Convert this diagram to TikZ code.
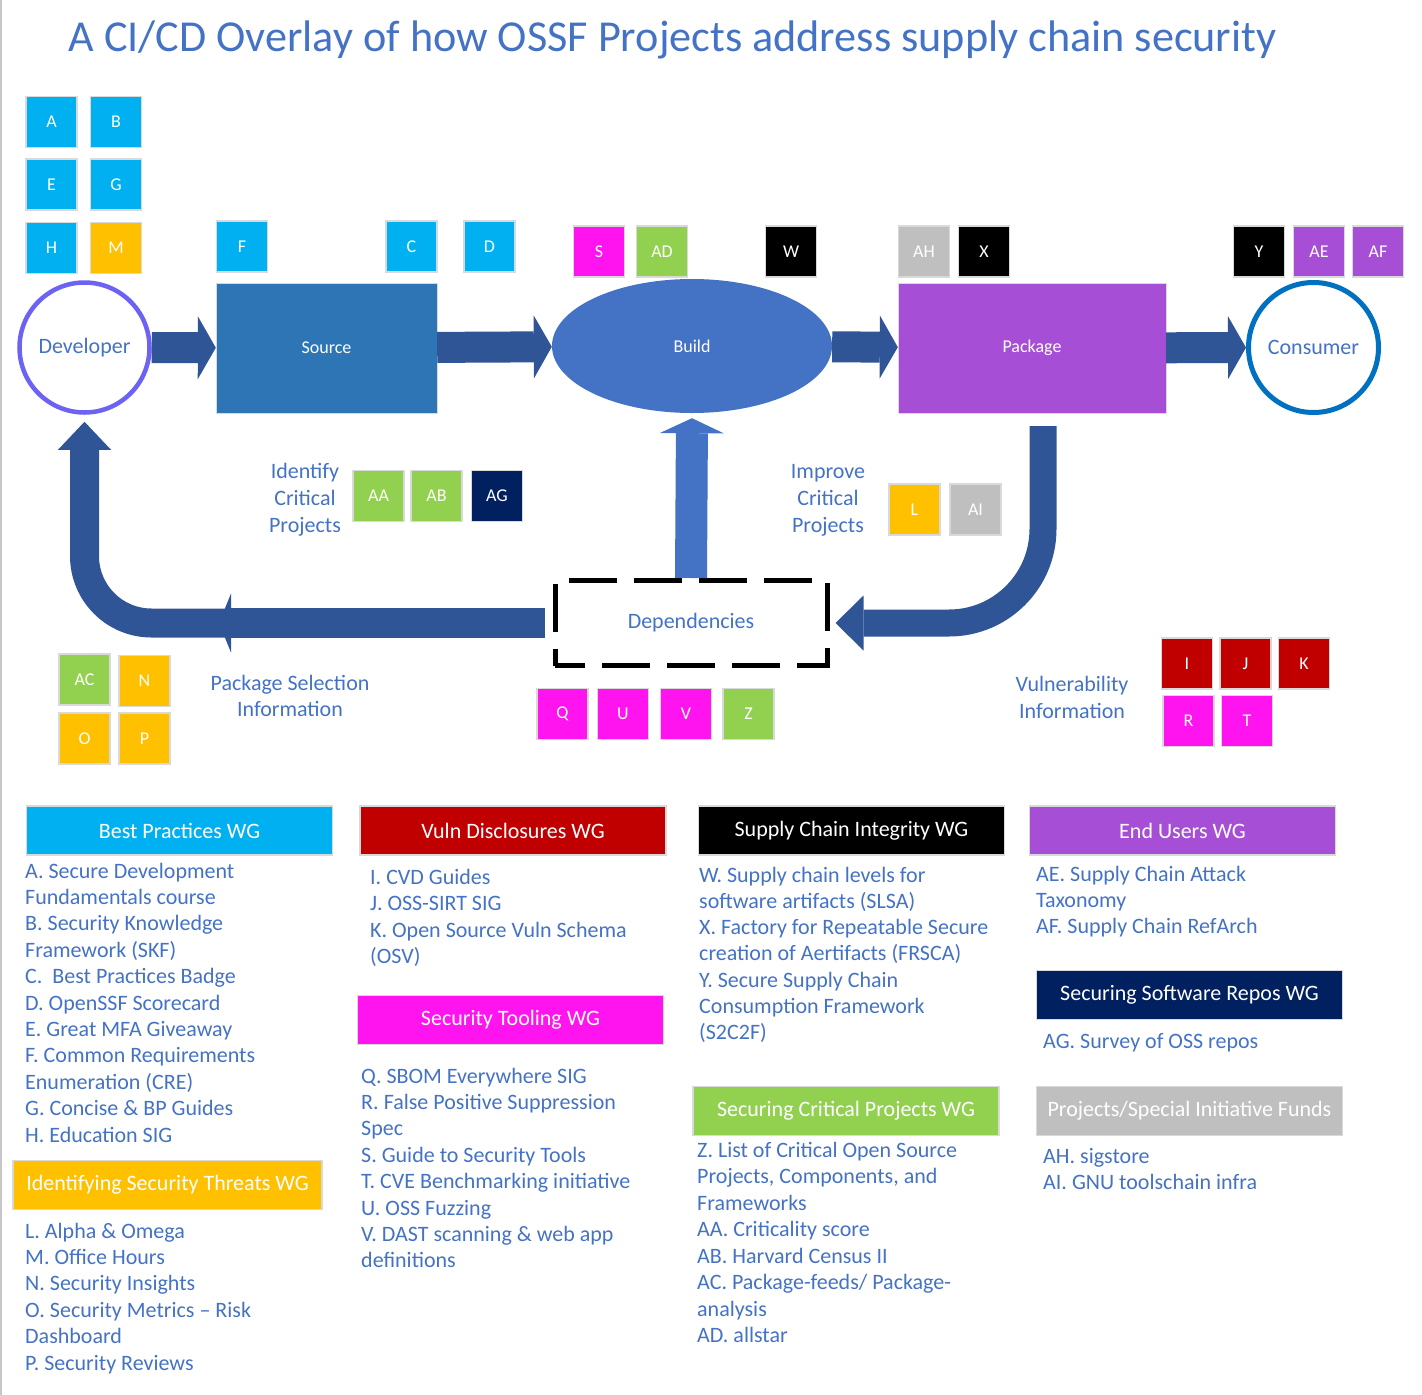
\documentclass[tikz,border=0pt]{standalone}
\usepackage{fontspec}
\setmainfont{Carlito}
\usetikzlibrary{arrows.meta}
\usetikzlibrary{shapes.geometric}
\definecolor{ossfblue}{HTML}{4472C4}
\definecolor{arrowblue}{HTML}{2F5597}
\definecolor{srcblue}{HTML}{2E75B6}
\definecolor{bpcyan}{HTML}{00B0F0}
\definecolor{istorange}{HTML}{FFC000}
\definecolor{stmagenta}{HTML}{FF14F0}
\definecolor{scpgreen}{HTML}{92D050}
\definecolor{vdred}{HTML}{C00000}
\definecolor{ssrnavy}{HTML}{002060}
\definecolor{eupurple}{HTML}{A64FD6}
\definecolor{fundgray}{HTML}{BFBFBF}
\definecolor{devpurple}{HTML}{6C63F5}
\definecolor{conblue}{HTML}{0070C0}
\newcommand\fsz[2]{\fontsize{#1}{#2}\selectfont}

\begin{document}
\begin{tikzpicture}[x=1pt,y=-1pt,
  tag/.style={draw=gray!30, line width=1.2pt, minimum size=51pt, inner sep=0pt, text=white, font=\fsz{18}{20}},
  wg/.style={draw=gray!30, line width=1.5pt, minimum width=306pt, minimum height=49pt, inner sep=0pt, text=white, font=\fsz{22}{26}},
  item/.style={anchor=base west, inner sep=0pt, text=ossfblue, font=\fsz{22}{26}},
  note/.style={align=center, inner sep=0pt, text=ossfblue, font=\fsz{22}{27}},
  stage/.style={minimum width=221pt, minimum height=130pt, inner sep=0pt, text=white, font=\fsz{18}{22}},
  actor/.style={circle, minimum size=130pt, inner sep=0pt, fill=white, text=ossfblue, font=\fsz{22}{26}},
  flow/.style={arrowblue, line width=31pt, -{Triangle[length=18pt,width=63pt,line width=0pt]}}]
\useasboundingbox (0,0) rectangle (1422,1395);
\draw[gray!45, line width=1.5pt] (1,0) -- (1,1395);
\node[anchor=base, inner sep=0pt, text=ossfblue, font=\fsz{44.2}{50}] (title) at (672.5,51) {A CI/CD Overlay of how OSSF Projects address supply chain security};

\node[actor, draw=devpurple, line width=4.5pt] (dev) at (84.5,347.5) {Developer};
\node[stage, fill=srcblue, draw=gray!30] (src) at (326.5,348) {Source};
\node[stage, ellipse, fill=ossfblue, minimum width=280pt, minimum height=134pt] (build) at (692,346) {Build};
\node[stage, fill=eupurple, draw=gray!30, minimum width=268pt] (pkg) at (1032,348) {Package};
\node[actor, draw=conblue, line width=5pt] (con) at (1313.5,347.5) {Consumer};
\node[draw, line width=5pt, dash pattern=on 48pt off 17pt, dash phase=18pt, minimum width=272pt, minimum height=85pt, inner sep=0pt, text=ossfblue, font=\fsz{22}{26}] (dep) at (691,623) {Dependencies};
\coordinate (selhead) at (219,623);

\draw[flow] (dev) -- (src);
\draw[flow] (src) -- (build);
\draw[flow] (build) -- (pkg);
\draw[flow] (pkg) -- (con);
\draw[flow, ossfblue, line width=32pt, -{Triangle[length=15pt,width=64pt,line width=0pt]}] (dep.north) -- ([yshift=-5pt]build.south);
\draw[flow, line width=29pt, rounded corners=67pt, -{Triangle[length=28pt,width=53pt,line width=0pt]}] ([xshift=6pt]selhead) -| ([yshift=-7pt]dev.south);
\draw[flow, line width=30pt, -{Triangle[length=12pt,width=59pt,line width=0pt]}] ([xshift=-8pt]dep.west) -- (selhead);
\draw[flow, line width=27pt, rounded corners=94pt, -{Triangle[length=28pt,width=55pt,line width=0pt]}] ([xshift=11pt,yshift=-13pt]pkg.south) |- ([xshift=6pt]dep.east);

\foreach \t/\x/\y/\c in {A/51.5/122/bpcyan, B/116/122/bpcyan, E/51.5/184.5/bpcyan, G/116/184.5/bpcyan,
  H/51.5/248/bpcyan, M/116/248/istorange, F/242/246.5/bpcyan, C/411.5/246.5/bpcyan, D/489.5/246.5/bpcyan,
  S/599/251.5/stmagenta, AD/662/251.5/scpgreen, W/791/251.5/black, AH/924/251.5/fundgray, X/984/251.5/black,
  Y/1259/251.5/black, AE/1319/251.5/eupurple, AF/1378/251.5/eupurple,
  AA/378.5/496/scpgreen, AB/436.5/496/scpgreen, AG/497/496/ssrnavy, L/914.5/509.5/istorange, AI/975.5/509.5/fundgray,
  AC/84.5/679.5/scpgreen, N/144.5/681/istorange, O/84.5/738.5/istorange, P/144.5/738.5/istorange,
  Q/562.5/714/stmagenta, U/623/714/stmagenta, V/686/714/stmagenta, Z/748.5/714/scpgreen,
  I/1187/663.5/vdred, J/1245.5/663.5/vdred, K/1304/663.5/vdred, R/1188.5/721/stmagenta, T/1247/721/stmagenta}
  \node[tag, fill=\c] (tag\t) at (\x,\y) {\t};

\node[note] (idnote) at (305,500) {Identify\\Critical\\Projects};
\node[note] (imnote) at (828,500) {Improve\\Critical\\Projects};
\node[note, font=\fsz{22}{25.5}] (psnote) at (290,696) {Package Selection\\Information};
\node[note] (vinote) at (1072,697) {Vulnerability\\Information};

\node[wg, fill=bpcyan] (bpwg) at (179.5,830.5) {Best Practices WG};
\node[wg, fill=vdred] (vdwg) at (513,830.5) {Vuln Disclosures WG};
\node[wg, fill=black] (sciwg) at (851.5,830.5) {Supply Chain Integrity WG};
\node[wg, fill=eupurple] (euwg) at (1182.5,830.5) {End Users WG};
\node[wg, fill=stmagenta] (stwg) at (510.5,1020) {Security Tooling WG};
\node[wg, fill=ssrnavy] (ssrwg) at (1189.5,995) {Securing Software Repos WG};
\node[wg, fill=istorange, minimum width=309pt] (istwg) at (167.5,1185) {Identifying Security Threats WG};
\node[wg, fill=scpgreen] (scpwg) at (846,1111) {Securing Critical Projects WG};
\node[wg, fill=fundgray] (fundwg) at (1189.5,1111) {Projects/Special Initiative Funds};

\foreach \t [count=\i from 0] in {A. Secure Development, Fundamentals course, B. Security Knowledge, Framework (SKF),
  C.\ \ Best Practices Badge, D. OpenSSF Scorecard, E. Great MFA Giveaway, F. Common Requirements,
  Enumeration (CRE), G. Concise \& BP Guides, H. Education SIG}
  \node[item] (bp\i) at (25,878+26.4*\i) {\t};
\foreach \t [count=\i from 0] in {L. Alpha \& Omega, M. Office Hours, N. Security Insights,
  O. Security Metrics – Risk, Dashboard, P. Security Reviews}
  \node[item] (ist\i) at (25,1238+26.4*\i) {\t};
\foreach \t [count=\i from 0] in {I. CVD Guides, J. OSS-SIRT SIG, K. Open Source Vuln Schema, (OSV)}
  \node[item] (vd\i) at (370,884+26.6*\i) {\t};
\foreach \t [count=\i from 0] in {Q. SBOM Everywhere SIG, R. False Positive Suppression, Spec,
  S. Guide to Security Tools, T. CVE Benchmarking initiative, U. OSS Fuzzing, V. DAST scanning \& web app, definitions}
  \node[item] (st\i) at (361,1083+26.4*\i) {\t};
\foreach \t [count=\i from 0] in {W. Supply chain levels for, software artifacts (SLSA), X. Factory for Repeatable Secure,
  creation of Aertifacts (FRSCA), Y. Secure Supply Chain, Consumption Framework, (S2C2F)}
  \node[item] (sci\i) at (699,882+26.3*\i) {\t};
\foreach \t [count=\i from 0] in {AE. Supply Chain Attack, Taxonomy, AF. Supply Chain RefArch}
  \node[item] (eu\i) at (1036,881+26.3*\i) {\t};
\node[item] (ssr0) at (1043,1048) {AG. Survey of OSS repos};
\foreach \t [count=\i from 0] in {Z. List of Critical Open Source, {Projects, Components, and}, Frameworks,
  AA. Criticality score, AB. Harvard Census II, AC. Package-feeds/ Package-, analysis, AD. allstar}
  \node[item] (scp\i) at (697,1157+26.5*\i) {\t};
\foreach \t [count=\i from 0] in {AH. sigstore, AI. GNU toolschain infra}
  \node[item] (fund\i) at (1043,1163+26*\i) {\t};
\end{tikzpicture}
\end{document}
